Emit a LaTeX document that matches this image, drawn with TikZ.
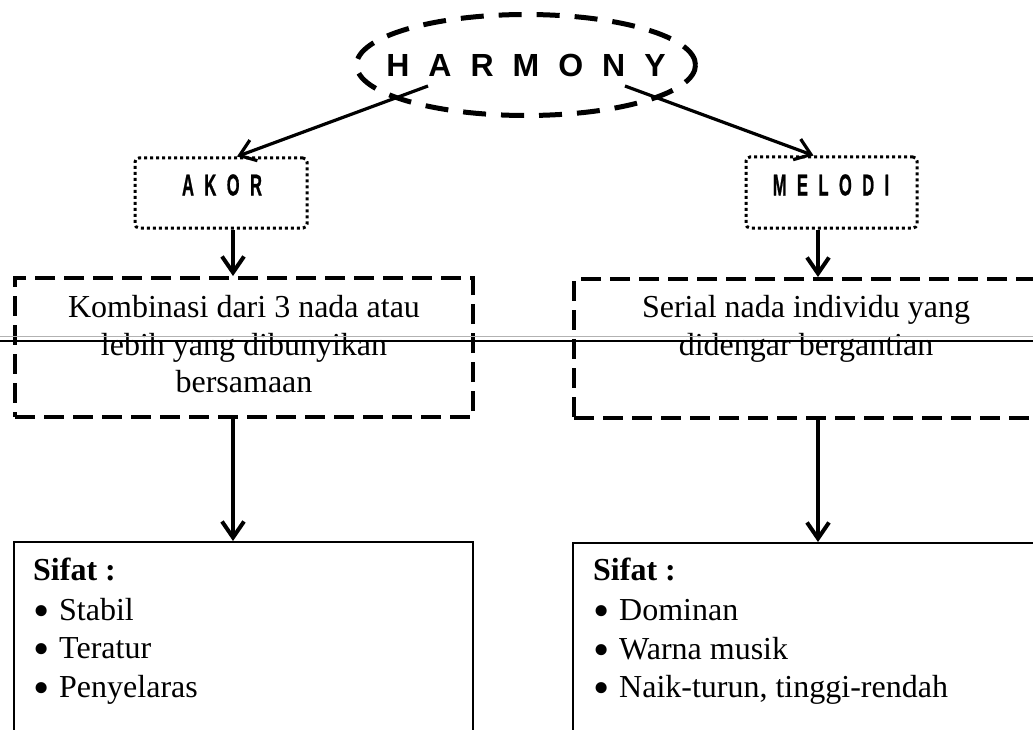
\documentclass[tikz,border=0pt]{standalone}
\usepackage{fontspec}
\usepackage{graphicx}
\setmainfont{Liberation Serif}
\newfontfamily\headfont{Liberation Sans}
\newfontfamily\tagfont{Liberation Sans}[FakeBold=1.2]
\usetikzlibrary{arrows.meta,shapes.geometric}

% letter-spaced headings
\newcommand\wideH{\hspace{19pt}}
\newcommand\wideT{\hspace{19pt}}
\newcommand\tagtext[1]{\scalebox{0.55}[1]{\tagfont\bfseries\fontsize{30}{30}\selectfont #1}}
\newcommand\dotitem{\makebox[26pt][l]{\smash{\raisebox{-6.5pt}{\scalebox{1.45}{\textbullet}}}}}

\begin{document}
\begin{tikzpicture}[x=1pt,y=-1pt,
  titletext/.style={inner sep=0pt, font=\headfont\bfseries\fontsize{32}{32}\selectfont},
  titlering/.style={line width=5pt, dash pattern=on 23pt off 15pt},
  dotbox/.style={draw, line width=3pt, dash pattern=on 3pt off 3pt,
    rounded corners=4pt, inner sep=0pt},
  dashbox/.style={draw, line width=4pt, dash pattern=on 20pt off 9pt, inner sep=0pt},
  listbox/.style={draw, line width=2pt, inner sep=0pt},
  tag/.style={inner sep=0pt},
  bodyline/.style={anchor=base, inner sep=0pt, font=\fontsize{32}{38}\selectfont},
  listline/.style={anchor=base west, inner sep=0pt, font=\fontsize{32}{39}\selectfont},
  link/.style={-{Straight Barb[length=15pt,width=22pt]}, line width=3.2pt},
  flow/.style={-{Straight Barb[length=16pt,width=22pt]}, line width=4pt}]

\clip (0,0) rectangle (1033,730);
\fill[white] (0,0) rectangle (1033,730);

% main concept inside a dashed ellipse
\node[titletext] (harmony) at (526,65)
  {H\wideH A\wideH R\wideH M\wideH O\wideH N\wideH Y};
\draw[titlering] (harmony.center) ellipse [x radius=169.5pt, y radius=50.5pt];

% the two branches
\node[dotbox, minimum width=172pt, minimum height=70pt] (akor) at (221,193) {};
\node[tag] (akortext) at (222,185) {\tagtext{A\wideT K\wideT O\wideT R}};
\node[dotbox, minimum width=171pt, minimum height=71pt] (melodi) at (831.5,192.5) {};
\node[tag] (melodtext) at (831,185) {\tagtext{M\wideT E\wideT L\wideT O\wideT D\wideT I}};

% definitions
\node[dashbox, minimum width=458pt, minimum height=139pt] (def1) at (244,347.5) {};
\node[bodyline] (d1a) at (244,317) {Kombinasi dari 3 nada atau};
\node[bodyline] (d1b) at (244,355) {lebih yang dibunyikan};
\node[bodyline] (d1c) at (244,392) {bersamaan};

\node[dashbox, minimum width=466pt, minimum height=139pt] (def2) at (807,348.5) {};
\node[bodyline] (d2a) at (806,317) {Serial nada individu yang};
\node[bodyline] (d2b) at (806,355) {didengar bergantian};

% properties
\node[listbox, minimum width=459pt, minimum height=218pt] (list1) at (243.5,651) {};
\node[listline] (p1h) at (33,580) {\bfseries Sifat :};
\node[listline] (p1a) at (33,620) {\dotitem Stabil};
\node[listline] (p1b) at (33,658) {\dotitem Teratur};
\node[listline] (p1c) at (33,697) {\dotitem Penyelaras};

\node[listbox, minimum width=487pt, minimum height=218pt] (list2) at (816.5,652) {};
\node[listline] (p2h) at (593,580) {\bfseries Sifat :};
\node[listline] (p2a) at (593,620) {\dotitem Dominan};
\node[listline] (p2b) at (593,659) {\dotitem Warna musik};
\node[listline] (p2c) at (593,697) {\dotitem Naik-turun, tinggi-rendah};

% connectors
\coordinate (hl) at (428,86);
\coordinate (hr) at (625,86);
\coordinate (colL) at (233,0);
\coordinate (colR) at (818,0);
\draw[link] (hl) -- ([xshift=16pt]akor.north);
\draw[link] (hr) -- ([xshift=-18pt]melodi.north);
\draw[flow] (akor.south -| colL) -- (def1.north -| colL);
\draw[flow] (def1.south -| colL) -- (list1.north -| colL);
\draw[flow] (melodi.south -| colR) -- (def2.north -| colR);
\draw[flow] (def2.south -| colR) -- (list2.north -| colR);

% rule across the page
\draw[gray!60, line width=0.8pt] (0,336) -- (1033,336);
\draw[line width=1.2pt] (0,341) -- (1033,341);
\end{tikzpicture}
\end{document}
